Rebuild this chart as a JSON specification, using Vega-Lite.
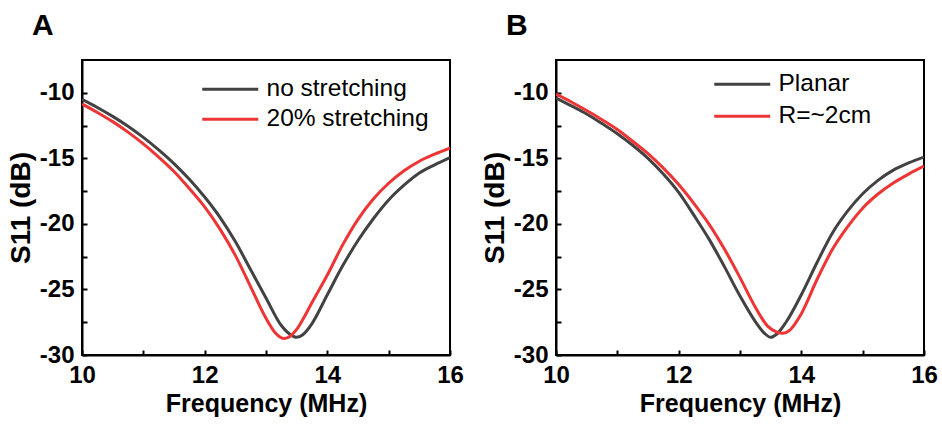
{
  "$schema": "https://vega.github.io/schema/vega-lite/v6.json",
  "padding": {"left": 6, "top": 10, "right": 0, "bottom": 0},
  "background": "white",
  "bounds": "flush",
  "spacing": 106,
  "config": {
    "font": "Liberation Sans",
    "view": {"stroke": "black", "strokeWidth": 2},
    "axis": {
      "domainColor": "black",
      "domainWidth": 2,
      "tickColor": "black",
      "tickWidth": 2,
      "tickSize": -5,
      "grid": false,
      "labelFont": "Liberation Sans",
      "labelFontWeight": "bold",
      "labelFontSize": 24,
      "labelColor": "black",
      "titleFont": "Liberation Sans",
      "titleFontWeight": "bold",
      "titleColor": "black"
    },
    "legend": {
      "labelFont": "Liberation Sans",
      "labelFontSize": 24.5,
      "labelColor": "black",
      "labelLimit": 0,
      "symbolType": "M-2.8,0L2.8,0",
      "symbolStrokeWidth": 3,
      "symbolSize": 400,
      "labelOffset": 24,
      "rowPadding": 4
    },
    "title": {
      "font": "Liberation Sans",
      "fontWeight": "bold",
      "fontSize": 30,
      "color": "black",
      "anchor": "start",
      "frame": "group",
      "baseline": "alphabetic",
      "offset": 19,
      "dx": -50
    }
  },
  "datasets": {
    "A": [
      {"f": 10, "s11": -10.5, "series": "no stretching"},
      {"f": 10.25, "s11": -11.12, "series": "no stretching"},
      {"f": 10.5, "s11": -11.8, "series": "no stretching"},
      {"f": 10.75, "s11": -12.55, "series": "no stretching"},
      {"f": 11, "s11": -13.4, "series": "no stretching"},
      {"f": 11.25, "s11": -14.35, "series": "no stretching"},
      {"f": 11.5, "s11": -15.4, "series": "no stretching"},
      {"f": 11.75, "s11": -16.6, "series": "no stretching"},
      {"f": 12, "s11": -17.95, "series": "no stretching"},
      {"f": 12.25, "s11": -19.5, "series": "no stretching"},
      {"f": 12.5, "s11": -21.35, "series": "no stretching"},
      {"f": 12.75, "s11": -23.5, "series": "no stretching"},
      {"f": 13.0, "s11": -25.65, "series": "no stretching"},
      {"f": 13.25, "s11": -27.75, "series": "no stretching"},
      {"f": 13.4, "s11": -28.45, "series": "no stretching"},
      {"f": 13.5, "s11": -28.65, "series": "no stretching"},
      {"f": 13.6, "s11": -28.45, "series": "no stretching"},
      {"f": 13.75, "s11": -27.6, "series": "no stretching"},
      {"f": 14.0, "s11": -25.4, "series": "no stretching"},
      {"f": 14.25, "s11": -23.2, "series": "no stretching"},
      {"f": 14.5, "s11": -21.27, "series": "no stretching"},
      {"f": 14.75, "s11": -19.61, "series": "no stretching"},
      {"f": 15.0, "s11": -18.18, "series": "no stretching"},
      {"f": 15.25, "s11": -17.05, "series": "no stretching"},
      {"f": 15.5, "s11": -16.12, "series": "no stretching"},
      {"f": 15.75, "s11": -15.5, "series": "no stretching"},
      {"f": 16.0, "s11": -14.95, "series": "no stretching"},
      {"f": 10, "s11": -10.85, "series": "20% stretching"},
      {"f": 10.25, "s11": -11.5, "series": "20% stretching"},
      {"f": 10.5, "s11": -12.2, "series": "20% stretching"},
      {"f": 10.75, "s11": -13.0, "series": "20% stretching"},
      {"f": 11, "s11": -13.9, "series": "20% stretching"},
      {"f": 11.25, "s11": -14.9, "series": "20% stretching"},
      {"f": 11.5, "s11": -16.0, "series": "20% stretching"},
      {"f": 11.75, "s11": -17.3, "series": "20% stretching"},
      {"f": 12, "s11": -18.7, "series": "20% stretching"},
      {"f": 12.25, "s11": -20.4, "series": "20% stretching"},
      {"f": 12.5, "s11": -22.4, "series": "20% stretching"},
      {"f": 12.75, "s11": -24.8, "series": "20% stretching"},
      {"f": 13.0, "s11": -27.2, "series": "20% stretching"},
      {"f": 13.15, "s11": -28.3, "series": "20% stretching"},
      {"f": 13.3, "s11": -28.75, "series": "20% stretching"},
      {"f": 13.4, "s11": -28.55, "series": "20% stretching"},
      {"f": 13.5, "s11": -28.05, "series": "20% stretching"},
      {"f": 13.6, "s11": -27.3, "series": "20% stretching"},
      {"f": 13.75, "s11": -26.0, "series": "20% stretching"},
      {"f": 14.0, "s11": -23.9, "series": "20% stretching"},
      {"f": 14.25, "s11": -21.6, "series": "20% stretching"},
      {"f": 14.5, "s11": -19.65, "series": "20% stretching"},
      {"f": 14.75, "s11": -18.1, "series": "20% stretching"},
      {"f": 15.0, "s11": -16.9, "series": "20% stretching"},
      {"f": 15.25, "s11": -15.95, "series": "20% stretching"},
      {"f": 15.5, "s11": -15.22, "series": "20% stretching"},
      {"f": 15.75, "s11": -14.68, "series": "20% stretching"},
      {"f": 16.0, "s11": -14.22, "series": "20% stretching"}
    ],
    "B": [
      {"f": 10, "s11": -10.4, "series": "Planar"},
      {"f": 10.25, "s11": -11.0, "series": "Planar"},
      {"f": 10.5, "s11": -11.62, "series": "Planar"},
      {"f": 10.75, "s11": -12.35, "series": "Planar"},
      {"f": 11, "s11": -13.12, "series": "Planar"},
      {"f": 11.25, "s11": -14.0, "series": "Planar"},
      {"f": 11.5, "s11": -15.0, "series": "Planar"},
      {"f": 11.75, "s11": -16.2, "series": "Planar"},
      {"f": 12, "s11": -17.6, "series": "Planar"},
      {"f": 12.25, "s11": -19.35, "series": "Planar"},
      {"f": 12.5, "s11": -21.2, "series": "Planar"},
      {"f": 12.75, "s11": -23.3, "series": "Planar"},
      {"f": 13.0, "s11": -25.5, "series": "Planar"},
      {"f": 13.25, "s11": -27.45, "series": "Planar"},
      {"f": 13.4, "s11": -28.35, "series": "Planar"},
      {"f": 13.5, "s11": -28.65, "series": "Planar"},
      {"f": 13.6, "s11": -28.4, "series": "Planar"},
      {"f": 13.75, "s11": -27.5, "series": "Planar"},
      {"f": 14.0, "s11": -25.4, "series": "Planar"},
      {"f": 14.25, "s11": -23.0, "series": "Planar"},
      {"f": 14.5, "s11": -20.75, "series": "Planar"},
      {"f": 14.75, "s11": -19.05, "series": "Planar"},
      {"f": 15.0, "s11": -17.7, "series": "Planar"},
      {"f": 15.25, "s11": -16.68, "series": "Planar"},
      {"f": 15.5, "s11": -15.9, "series": "Planar"},
      {"f": 15.75, "s11": -15.35, "series": "Planar"},
      {"f": 16.0, "s11": -14.9, "series": "Planar"},
      {"f": 10, "s11": -10.1, "series": "R=~2cm"},
      {"f": 10.25, "s11": -10.7, "series": "R=~2cm"},
      {"f": 10.5, "s11": -11.35, "series": "R=~2cm"},
      {"f": 10.75, "s11": -12.05, "series": "R=~2cm"},
      {"f": 11, "s11": -12.8, "series": "R=~2cm"},
      {"f": 11.25, "s11": -13.7, "series": "R=~2cm"},
      {"f": 11.5, "s11": -14.65, "series": "R=~2cm"},
      {"f": 11.75, "s11": -15.75, "series": "R=~2cm"},
      {"f": 12, "s11": -17.0, "series": "R=~2cm"},
      {"f": 12.25, "s11": -18.45, "series": "R=~2cm"},
      {"f": 12.5, "s11": -20.05, "series": "R=~2cm"},
      {"f": 12.75, "s11": -21.95, "series": "R=~2cm"},
      {"f": 13.0, "s11": -24.1, "series": "R=~2cm"},
      {"f": 13.25, "s11": -26.35, "series": "R=~2cm"},
      {"f": 13.45, "s11": -27.8, "series": "R=~2cm"},
      {"f": 13.6, "s11": -28.25, "series": "R=~2cm"},
      {"f": 13.7, "s11": -28.34, "series": "R=~2cm"},
      {"f": 13.8, "s11": -28.15, "series": "R=~2cm"},
      {"f": 13.9, "s11": -27.6, "series": "R=~2cm"},
      {"f": 14.0, "s11": -26.85, "series": "R=~2cm"},
      {"f": 14.25, "s11": -24.3, "series": "R=~2cm"},
      {"f": 14.5, "s11": -22.0, "series": "R=~2cm"},
      {"f": 14.75, "s11": -20.25, "series": "R=~2cm"},
      {"f": 15.0, "s11": -18.8, "series": "R=~2cm"},
      {"f": 15.25, "s11": -17.72, "series": "R=~2cm"},
      {"f": 15.5, "s11": -16.88, "series": "R=~2cm"},
      {"f": 15.75, "s11": -16.2, "series": "R=~2cm"},
      {"f": 16.0, "s11": -15.6, "series": "R=~2cm"}
    ]
  },
  "resolve": {"scale": {"color": "independent"}, "legend": {"color": "independent"}},
  "hconcat": [
    {
      "title": "A",
      "width": 368,
      "height": 295,
      "data": {"name": "A"},
      "mark": {"type": "line", "strokeWidth": 3, "interpolate": "monotone", "clip": true},
      "encoding": {
        "x": {"field": "f", "type": "quantitative", "scale": {"domain": [10, 16], "nice": false, "zero": false},
          "axis": {"title": "Frequency (MHz)", "titleFontSize": 25, "values": [10, 11, 12, 13, 14, 15, 16], "labelExpr": "datum.value % 2 == 0 ? toString(datum.value) : ''",
            "labelPadding": 13, "titlePadding": 4, "labelFlush": false}},
        "y": {"field": "s11", "type": "quantitative", "scale": {"domain": [-30, -7.5], "nice": false, "zero": false},
          "axis": {"title": "S11 (dB)", "titleFontSize": 28, "values": [-30, -27.5, -25, -22.5, -20, -17.5, -15, -12.5, -10], "labelExpr": "datum.value % 5 == 0 ? toString(datum.value) : ''",
            "labelPadding": 13, "titlePadding": 4, "labelFlush": false}},
        "color": {"field": "series", "type": "nominal", "sort": ["no stretching", "20% stretching"],
          "scale": {"domain": ["no stretching", "20% stretching"], "range": ["#424242", "#ee3535"]},
          "legend": {"title": null, "orient": "none", "legendX": 136, "legendY": 17, "rowPadding": 5}}
      }
    },
    {
      "title": "B",
      "width": 368,
      "height": 295,
      "data": {"name": "B"},
      "mark": {"type": "line", "strokeWidth": 3, "interpolate": "monotone", "clip": true},
      "encoding": {
        "x": {"field": "f", "type": "quantitative", "scale": {"domain": [10, 16], "nice": false, "zero": false},
          "axis": {"title": "Frequency (MHz)", "titleFontSize": 25, "values": [10, 11, 12, 13, 14, 15, 16], "labelExpr": "datum.value % 2 == 0 ? toString(datum.value) : ''",
            "labelPadding": 13, "titlePadding": 4, "labelFlush": false}},
        "y": {"field": "s11", "type": "quantitative", "scale": {"domain": [-30, -7.5], "nice": false, "zero": false},
          "axis": {"title": "S11 (dB)", "titleFontSize": 28, "values": [-30, -27.5, -25, -22.5, -20, -17.5, -15, -12.5, -10], "labelExpr": "datum.value % 5 == 0 ? toString(datum.value) : ''",
            "labelPadding": 13, "titlePadding": 4, "labelFlush": false}},
        "color": {"field": "series", "type": "nominal", "sort": ["Planar", "R=~2cm"],
          "scale": {"domain": ["Planar", "R=~2cm"], "range": ["#424242", "#ee3535"]},
          "legend": {"title": null, "orient": "none", "legendX": 174, "legendY": 12, "rowPadding": 7}}
      }
    }
  ]
}
